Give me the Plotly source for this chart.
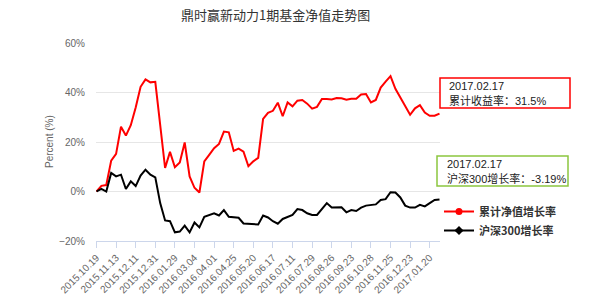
import plotly.graph_objects as go

title_text = "鼎时赢新动力1期基金净值走势图"
series_names = ["累计净值增长率", "沪深300增长率"]
tick_labels = ["2015.10.19", "2015.11.13", "2015.12.11", "2015.12.31", "2016.01.29",
               "2016.03.04", "2016.04.01", "2016.04.25", "2016.05.20", "2016.06.17",
               "2016.07.11", "2016.07.29", "2016.08.26", "2016.09.23", "2016.10.28",
               "2016.11.25", "2016.12.23", "2017.01.20"]
fund_growth = [0, 2.3, 2.6, 12.5, 15.2, 26.2, 22.6, 26.8, 33.9, 42.3,
               45.3, 44.1, 44.3, 27.0, 9.5, 16.0, 9.8, 11.7, 19.8, 6.1,
               1.5, -0.4, 12.2, 14.8, 17.5, 19.2, 24.2, 23.9, 16.4, 17.3,
               16.1, 10.2, 12.2, 13.6, 29.3, 31.8, 32.6, 35.9, 30.4, 36.0,
               34.4, 36.7, 37.0, 35.5, 33.5, 34.2, 37.4, 37.4, 37.2, 37.8,
               37.7, 37.1, 37.5, 37.5, 39.2, 39.4, 36.0, 37.0, 42.0, 44.4,
               46.6, 41.5, 37.9, 34.0, 31.0, 33.6, 34.9, 31.9, 30.6, 30.6, 31.5]
hs300_growth = [0, 1.1, 0, 7.5, 6.1, 6.8, 1.0, 4.1, 2.2, 6.4,
                8.8, 6.8, 5.7, -4.7, -11.7, -12.0, -16.5, -16.2, -13.8, -16.5,
                -12.5, -14.5, -10.2, -9.5, -8.8, -9.7, -7.5, -10.2, -10.5, -10.6,
                -12.9, -13.0, -13.0, -13.3, -9.7, -10.5, -12.0, -13.0, -11.1, -10.2,
                -9.5, -7.1, -7.5, -8.8, -9.5, -9.5, -7.1, -4.7, -6.5, -6.4,
                -6.4, -8.4, -7.5, -7.9, -6.5, -5.7, -5.4, -5.2, -3.4, -3.1,
                -0.3, -0.4, -2.4, -5.7, -6.5, -6.5, -5.4, -6.0, -4.7, -3.4, -3.19]
last_date = "2017.02.17"
fund_last_label = "累计收益率：31.5%"
hs300_last_label = "沪深300增长率：-3.19%"

colors = ["#ff0000", "#000000"]
symbols = ["circle", "diamond"]

W, H = 600, 295
L, R, T, B = 96, 160, 43, 54
pw, ph = W - L - R, H - T - B


def px(x):
    return (x - L) / pw


def py(y):
    return (H - B - y) / ph


idx = list(range(len(fund_growth)))
fig = go.Figure()
for name, vals, c in zip(series_names, [fund_growth, hs300_growth], colors):
    fig.add_trace(go.Scatter(x=idx, y=vals, mode="lines", line=dict(color=c, width=2),
                             showlegend=False, name=name, hoverinfo="skip"))
for name, c, s in zip(series_names, colors, symbols):
    fig.add_trace(go.Scatter(x=[None], y=[None], mode="lines+markers", name=name,
                             line=dict(color=c, width=2),
                             marker=dict(color=c, symbol=s, size=7)))

fig.update_layout(
    width=W, height=H,
    margin=dict(l=L, r=R, t=T, b=B, autoexpand=False),
    paper_bgcolor="white", plot_bgcolor="white",
    font=dict(family="Liberation Sans, Noto Sans CJK SC, sans-serif", color="#666666", size=10),
    showlegend=True,
    legend=dict(x=px(439), y=py(197), xanchor="left", yanchor="top",
                font=dict(size=11, color="#333333", family="Noto Sans CJK SC, sans-serif", weight="bold"),
                bgcolor="rgba(0,0,0,0)", itemwidth=30, tracegroupgap=0),
    xaxis=dict(range=[-0.1, 70.1], tickmode="array", automargin=False,
               tickvals=[i * 4 for i in range(len(tick_labels))], ticktext=tick_labels,
               tickangle=-45, showgrid=False, showline=True, linecolor="#ccd6eb",
               linewidth=1, ticks="outside", tickcolor="#ccd6eb", ticklen=6,
               tickfont=dict(size=10, color="#666666"), zeroline=False),
    yaxis=dict(range=[-20, 60], dtick=20, ticksuffix="%", showgrid=True, automargin=False,
               gridcolor="#e6e6e6", gridwidth=1, zeroline=False, showline=False,
               ticks="", tickfont=dict(size=10, color="#666666"),
               ticklabelstandoff=10),
)

fig.add_annotation(text="Percent (%)", xref="paper", yref="paper", x=px(49), y=0.5,
                   textangle=-90, showarrow=False, xanchor="center", yanchor="middle",
                   font=dict(size=10, color="#666666"))
fig.add_annotation(text=title_text, xref="paper", yref="paper", x=px(275), y=py(15),
                   showarrow=False, xanchor="center", yanchor="middle",
                   font=dict(size=13, color="#333333", family="Noto Sans CJK SC, sans-serif"))

# label boxes
boxes = [
    dict(x0=440, x1=570, y0=78, y1=108, color="#ff0000",
         lines=[last_date, fund_last_label], tx=447),
    dict(x0=437, x1=568, y0=156, y1=186, color="#8cc63f",
         lines=[last_date, hs300_last_label], tx=445),
]
for b in boxes:
    fig.add_shape(type="rect", xref="paper", yref="paper",
                  x0=px(b["x0"]), x1=px(b["x1"]), y0=py(b["y1"]), y1=py(b["y0"]),
                  line=dict(color=b["color"], width=1.5), fillcolor="white", layer="above")
    for k, line in enumerate(b["lines"]):
        fig.add_annotation(text=line, xref="paper", yref="paper",
                           x=px(b["tx"]), y=py(b["y0"] + 8 + 14 * k),
                           xanchor="left", yanchor="middle", showarrow=False,
                           font=dict(size=11, color="#222222",
                                     family="Liberation Sans, Noto Sans CJK SC, sans-serif"))

fig.write_html("out.html")
